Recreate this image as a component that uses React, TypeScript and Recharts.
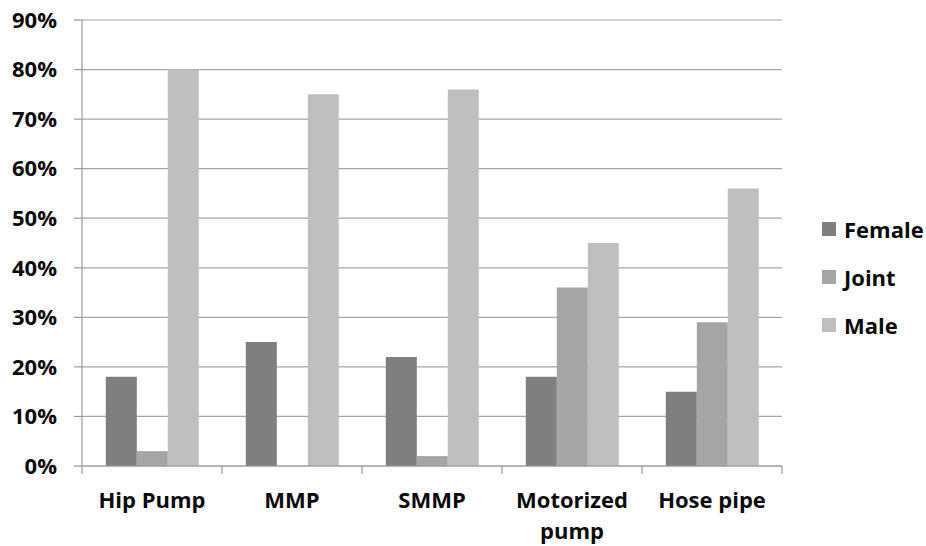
import React from "react";
import {
  BarChart,
  Bar,
  XAxis,
  YAxis,
  CartesianGrid,
  Legend,
} from "recharts";

const categories = ["Hip Pump", "MMP", "SMMP", "Motorized pump", "Hose pipe"];
const female = [18, 25, 22, 18, 15];
const joint = [3, 0, 2, 36, 29];
const male = [80, 75, 76, 45, 56];
const yTicks = [0, 10, 20, 30, 40, 50, 60, 70, 80, 90];

const seriesNames = ["Female", "Joint", "Male"];
const seriesColors = ["#7f7f7f", "#a5a5a5", "#bfbfbf"];

const WIDTH = 926;
const HEIGHT = 546;
const MARGIN = { top: 20, right: 144, bottom: 0, left: 0 };
const Y_AXIS_WIDTH = 82;
const FONT = "'Open Sans', 'DejaVu Sans', sans-serif";
const AXIS_COLOR = "#9a9a9a";
const TEXT_COLOR = "#0a0a0a";

const chartData = categories.map((name, i) => ({
  name,
  female: female[i],
  joint: joint[i],
  male: male[i],
}));

const plotWidth = WIDTH - MARGIN.left - MARGIN.right - Y_AXIS_WIDTH;
const bandWidth = plotWidth / categories.length;

// long labels wrap onto two lines, like the source
function wrapLabel(label: string): string[] {
  if (label.length <= 10) return [label];
  const cut = label.lastIndexOf(" ");
  return cut > 0 ? [label.slice(0, cut), label.slice(cut + 1)] : [label];
}

function CategoryTick(props: any) {
  const { x, y, payload, index } = props;
  const isLast = index === categories.length - 1;
  const lines = wrapLabel(String(payload.value));
  return (
    <g>
      <line
        x1={x - bandWidth / 2}
        x2={x - bandWidth / 2}
        y1={y}
        y2={y + 8}
        stroke={AXIS_COLOR}
        strokeWidth={1.2}
      />
      {isLast && (
        <line
          x1={x + bandWidth / 2}
          x2={x + bandWidth / 2}
          y1={y}
          y2={y + 8}
          stroke={AXIS_COLOR}
          strokeWidth={1.2}
        />
      )}
      <text
        x={x}
        y={y + 42}
        textAnchor="middle"
        fontFamily={FONT}
        fontWeight={700}
        fontSize={22}
        fill={TEXT_COLOR}
      >
        {lines.map((line, i) => (
          <tspan key={i} x={x} dy={i === 0 ? 0 : 31}>
            {line}
          </tspan>
        ))}
      </text>
    </g>
  );
}

function LegendContent() {
  return (
    <div style={{ fontFamily: FONT, fontWeight: 700, fontSize: 22, color: TEXT_COLOR }}>
      {seriesNames.map((name, i) => (
        <div
          key={name}
          style={{ display: "flex", alignItems: "center", height: 48 }}
        >
          <span
            style={{
              display: "inline-block",
              width: 14,
              height: 14,
              background: seriesColors[i],
              marginRight: 8,
            }}
          />
          <span>{name}</span>
        </div>
      ))}
    </div>
  );
}

export default function App() {
  return (
    <div style={{ position: "absolute", left: 0, top: 0, background: "#fff" }}>
      <BarChart
        width={WIDTH}
        height={HEIGHT}
        data={chartData}
        margin={MARGIN}
        barCategoryGap="17%"
        barGap={0}
      >
        <CartesianGrid vertical={false} stroke="#a6a6a6" strokeWidth={1.2} />
        <XAxis
          dataKey="name"
          height={80}
          interval={0}
          tickLine={false}
          tickSize={0}
          tickMargin={0}
          axisLine={{ stroke: AXIS_COLOR, strokeWidth: 1.2 }}
          tick={<CategoryTick />}
        />
        <YAxis
          width={Y_AXIS_WIDTH}
          domain={[0, 90]}
          ticks={yTicks}
          interval={0}
          tickFormatter={(v: number) => `${v}%`}
          tickSize={8}
          tickMargin={17}
          axisLine={{ stroke: AXIS_COLOR, strokeWidth: 1.2 }}
          tickLine={{ stroke: AXIS_COLOR, strokeWidth: 1.2 }}
          tick={{ fontFamily: FONT, fontWeight: 700, fontSize: 22, fill: TEXT_COLOR }}
        />
        <Legend
          layout="vertical"
          align="center"
          verticalAlign="middle"
          wrapperStyle={{ left: 822, top: 205, width: 104 }}
          content={<LegendContent />}
        />
        <Bar dataKey="female" name="Female" fill={seriesColors[0]} isAnimationActive={false} />
        <Bar dataKey="joint" name="Joint" fill={seriesColors[1]} isAnimationActive={false} />
        <Bar dataKey="male" name="Male" fill={seriesColors[2]} isAnimationActive={false} />
      </BarChart>
    </div>
  );
}
